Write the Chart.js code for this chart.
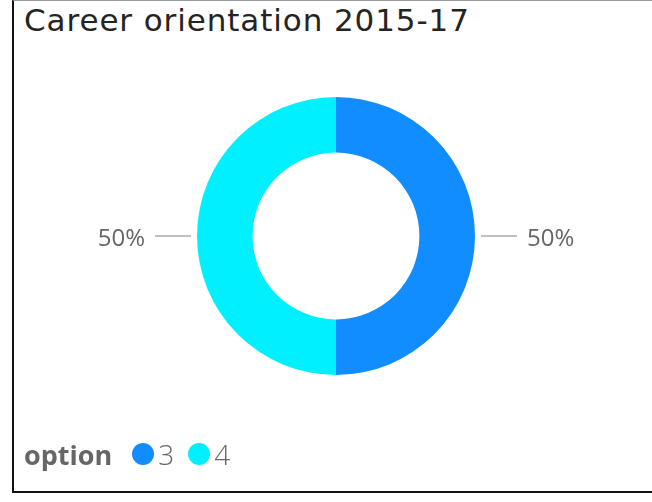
<!DOCTYPE html>
<html>
<head>
<meta charset="utf-8">
<script src="https://cdn.jsdelivr.net/npm/chart.js@4.4.1/dist/chart.umd.min.js"></script>
<style>
  body { margin: 0; background: #fff; width: 652px; height: 502px; overflow: hidden; position: relative; }
  #frame { position: absolute; left: 12px; top: 0; width: 660px; height: 490px; border-left: 2px solid #111; border-bottom: 2px solid #111; border-top: 1px solid #999; }
  #title { position: absolute; left: 24px; top: 2px; font-family: "DejaVu Sans", sans-serif; font-size: 31px; color: #252423; letter-spacing: 0.9px; white-space: nowrap; }
  #legend { position: absolute; left: 24px; top: 435px; font-family: "Open Sans", sans-serif; color: #666; display: flex; align-items: center; font-size: 28px; }
  #legend b { margin-right: 20px; font-size: 27px; }
  .sw { width: 22px; height: 22px; border-radius: 50%; display: inline-block; margin-right: 4px; }
  .it { display: flex; align-items: center; margin-right: 14px; font-weight: 300; }
  #c { position: absolute; left: 0; top: 0; }
</style>
</head>
<body>
<div id="frame"></div>
<div id="title">Career orientation 2015-17</div>
<canvas id="c" width="652" height="502"></canvas>
<div id="legend"></div>
<script>
const categories = ["3", "4"]
const shares = [50, 50]
const colors = ["#118DFF", "#00F0FF"]
const legendTitle = "option"

// legend built from the same arrays
const legend = document.getElementById("legend")
legend.innerHTML = `<b>${legendTitle}</b>`
categories.forEach((c, i) => {
    legend.innerHTML += `<span class="it"><span class="sw" style="background:${colors[i]}"></span>${c}</span>`
})

// labels outside the ring with a leader line
const outsideLabels = {
    id: "outsideLabels",
    afterDatasetsDraw(chart) {
        const ctx = chart.ctx
        const meta = chart.getDatasetMeta(0)
        const total = shares.reduce((a, b) => a + b, 0)
        meta.data.forEach((arc, i) => {
            const mid = (arc.startAngle + arc.endAngle) / 2
            const cos = Math.cos(mid), sin = Math.sin(mid)
            const r = arc.outerRadius
            const x1 = arc.x + cos * (r + 6), y1 = arc.y + sin * (r + 6)
            const x2 = arc.x + cos * (r + 42), y2 = arc.y + sin * (r + 42)
            ctx.save()
            ctx.strokeStyle = "#aaa"
            ctx.lineWidth = 1.5
            ctx.beginPath()
            ctx.moveTo(x1, y1)
            ctx.lineTo(x2, y2)
            ctx.stroke()
            ctx.fillStyle = "#666"
            ctx.font = "24px 'Open Sans', sans-serif"
            ctx.textBaseline = "middle"
            const right = cos >= 0
            ctx.textAlign = right ? "left" : "right"
            const txt = Math.round(shares[i] / total * 100) + "%"
            ctx.fillText(txt, x2 + (right ? 10 : -10), y2 + 3)
            ctx.restore()
        })
    }
}

new Chart(document.getElementById("c"), {
    type: "doughnut",
    data: {
        labels: categories,
        datasets: [{
            data: shares,
            backgroundColor: colors,
            borderWidth: 0
        }]
    },
    options: {
        responsive: false,
        animation: false,
        cutout: "60%",
        layout: { padding: { left: 197, right: 177, top: 97, bottom: 127 } },
        plugins: {
            legend: { display: false },
            tooltip: { enabled: false }
        }
    },
    plugins: [outsideLabels]
})
</script>
</body>
</html>
